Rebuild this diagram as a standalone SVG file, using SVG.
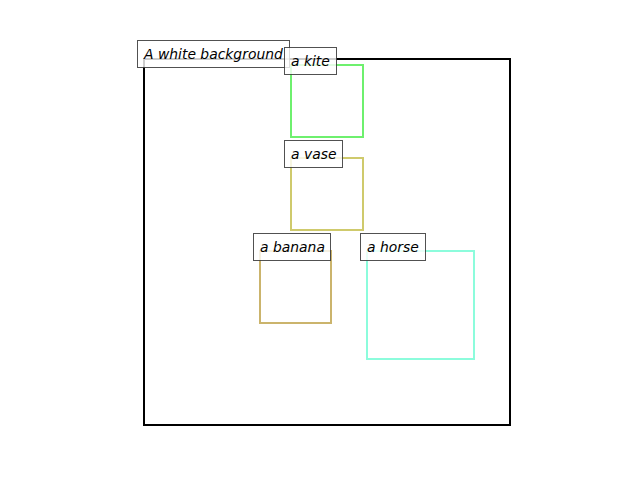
<svg xmlns="http://www.w3.org/2000/svg" width="640" height="480" viewBox="0 0 640 480">
<style>
.box{fill:none;stroke-width:2}
.lbl rect{fill:#ffffff;fill-opacity:0.8;stroke:#333333;stroke-opacity:0.85;stroke-width:1}
.lbl text{font-family:"DejaVu Sans",sans-serif;font-style:oblique;font-size:13.9px;fill:#000000}
</style>
<rect width="640" height="480" fill="#ffffff"/>
<g id="background">
<rect class="box" x="144" y="59" width="366" height="366" stroke="#000000"/>
</g>
<g id="kite">
<rect class="box" x="291" y="65" width="72" height="72" stroke="#6ef06e"/>
</g>
<g id="vase">
<rect class="box" x="291" y="158" width="72" height="72" stroke="#cfca6c"/>
</g>
<g id="banana">
<rect class="box" x="260" y="251" width="71" height="72" stroke="#cbb46c"/>
</g>
<g id="horse">
<rect class="box" x="367" y="251" width="107" height="108" stroke="#8cfcdc"/>
</g>
<g id="connectors"></g>
<g id="labels">
<g id="label-background" class="lbl"><rect x="137.5" y="40.5" width="152" height="27"/><text x="144" y="59">A white background</text></g>
<g id="label-kite" class="lbl"><rect x="284.5" y="47.5" width="52" height="27"/><text x="291" y="66">a kite</text></g>
<g id="label-vase" class="lbl"><rect x="284.5" y="140.5" width="58" height="27"/><text x="291" y="159">a vase</text></g>
<g id="label-banana" class="lbl"><rect x="253.5" y="233.5" width="77" height="27"/><text x="260" y="252">a banana</text></g>
<g id="label-horse" class="lbl"><rect x="360.5" y="233.5" width="65" height="27"/><text x="367" y="252">a horse</text></g>
</g>
</svg>
